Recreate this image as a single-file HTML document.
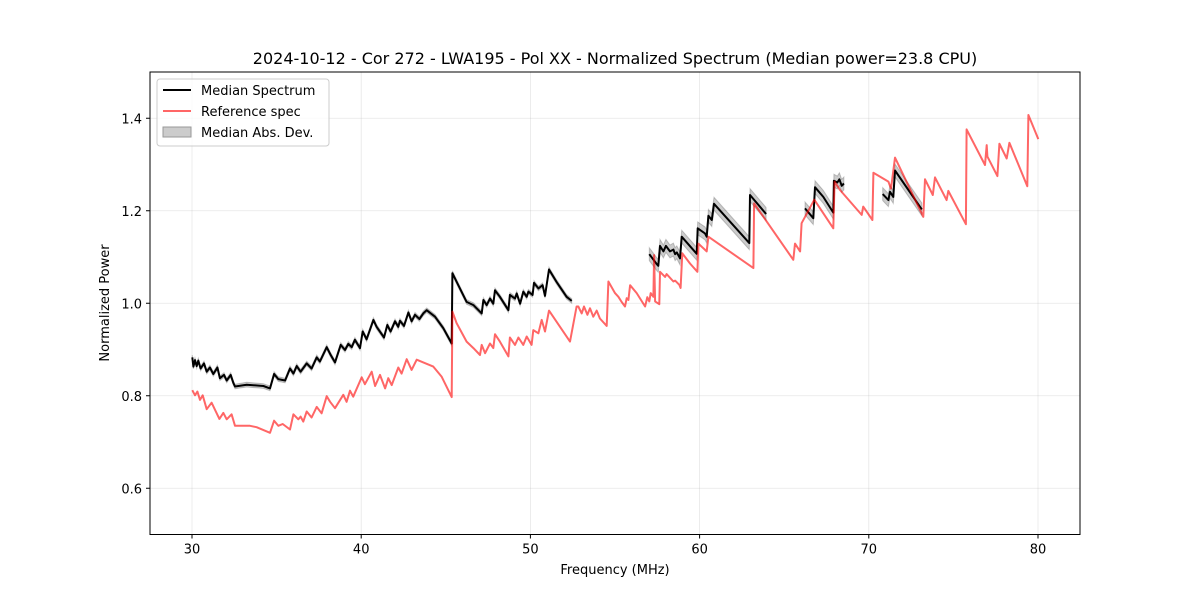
<!DOCTYPE html>
<html><head><meta charset="utf-8"><style>
body{margin:0;background:#fff;font-family:"Liberation Sans","DejaVu Sans",sans-serif}
svg text{font-family:"DejaVu Sans","Liberation Sans",sans-serif;fill:#000}
</style></head><body>
<svg id="chart" width="1200" height="600" viewBox="0 0 1200 600" xmlns="http://www.w3.org/2000/svg">
<rect width="1200" height="600" fill="#fff"/>
<text x="615" y="64" font-size="16" text-anchor="middle">2024-10-12 - Cor 272 - LWA195 - Pol XX - Normalized Spectrum (Median power=23.8 CPU)</text>
<g id="grid"></g>
<g id="series"></g>
<rect x="150" y="72" width="930" height="462.5" fill="none" stroke="#000" stroke-width="1"/>
<g id="axes"></g>
<text x="615" y="574" font-size="13" text-anchor="middle">Frequency (MHz)</text>
<text transform="translate(109,303) rotate(-90)" font-size="13" text-anchor="middle">Normalized Power</text>
<g>
<rect x="157" y="79" width="172" height="67" rx="3" fill="#fff" fill-opacity="0.8" stroke="#ccc"/>
<g><line x1="163" y1="90" x2="191" y2="90" stroke="#000" stroke-width="2"/><text x="201" y="95" font-size="13">Median Spectrum</text></g>
<g><line x1="163" y1="111" x2="191" y2="111" stroke="#ff6666" stroke-width="2"/><text x="201" y="116" font-size="13">Reference spec</text></g>
<g><rect x="163" y="127" width="28" height="10" fill="#000" fill-opacity="0.2" stroke="#999"/><text x="201" y="137" font-size="13">Median Abs. Dev.</text></g>
</g>
</svg>
<script>
const xTicks=[30,40,50,60,70,80];
const yTicks=[0.6,0.8,1.0,1.2,1.4];
const yTickLabels=["0.6","0.8","1.0","1.2","1.4"];
const refFreq=[30.02,30.18,30.32,30.47,30.63,30.87,31.16,31.62,31.85,32.05,32.34,32.54,33.43,33.82,34.61,34.85,35.10,35.36,35.79,35.99,36.28,36.42,36.58,36.78,37.07,37.37,37.66,37.96,38.16,38.45,38.94,39.14,39.34,39.53,40.03,40.22,40.62,40.82,41.11,41.41,41.60,41.80,42.19,42.39,42.69,42.98,43.28,43.67,44.26,44.76,45.35,45.39,45.64,46.23,46.63,47.02,47.12,47.32,47.61,47.81,47.91,48.20,48.70,48.79,49.09,49.29,49.58,49.78,50.07,50.17,50.47,50.67,50.86,51.10,52.34,52.73,52.83,53.03,53.17,53.37,53.52,53.72,53.92,54.11,54.51,54.61,55.00,55.20,55.39,55.59,55.69,55.79,55.89,56.28,56.78,56.91,57.03,57.11,57.27,57.31,57.37,57.62,57.66,57.96,58.05,58.45,58.55,58.80,58.88,58.98,59.43,59.87,59.93,60.42,60.52,63.18,63.22,65.54,65.64,65.94,66.03,66.78,67.90,67.98,68.29,69.58,69.67,70.21,70.27,71.16,71.31,71.55,73.22,73.32,73.78,73.91,74.60,74.70,75.74,75.78,76.87,76.97,77.01,77.60,77.72,78.15,78.31,79.37,79.43,80.02];
const refValue=[0.812,0.801,0.809,0.791,0.801,0.771,0.785,0.750,0.763,0.749,0.760,0.735,0.735,0.732,0.720,0.746,0.735,0.739,0.727,0.760,0.749,0.755,0.744,0.766,0.753,0.776,0.762,0.799,0.787,0.773,0.802,0.787,0.811,0.798,0.840,0.825,0.852,0.821,0.845,0.816,0.838,0.823,0.861,0.848,0.879,0.856,0.878,0.872,0.863,0.841,0.797,0.982,0.957,0.917,0.903,0.888,0.910,0.892,0.913,0.903,0.933,0.917,0.885,0.926,0.910,0.926,0.910,0.928,0.910,0.942,0.935,0.964,0.939,0.984,0.917,0.993,0.993,0.978,0.993,0.975,0.989,0.971,0.984,0.967,0.951,1.047,1.022,1.014,1.003,0.993,1.011,1.007,1.039,1.022,0.993,1.013,1.004,1.022,1.014,1.104,1.004,0.998,1.068,1.057,1.063,1.047,1.049,1.040,1.033,1.108,1.086,1.068,1.129,1.112,1.144,1.076,1.216,1.094,1.129,1.112,1.173,1.224,1.162,1.263,1.245,1.191,1.209,1.180,1.282,1.263,1.248,1.315,1.187,1.268,1.234,1.272,1.223,1.243,1.171,1.376,1.299,1.342,1.317,1.275,1.345,1.313,1.347,1.253,1.407,1.355];
const medFreq1=[30.02,30.08,30.18,30.28,30.37,30.51,30.71,30.87,31.06,31.26,31.50,31.65,31.89,32.05,32.29,32.44,32.54,33.23,34.22,34.61,34.85,35.10,35.50,35.79,35.99,36.19,36.42,36.78,37.07,37.37,37.56,37.96,38.20,38.45,38.79,39.04,39.24,39.44,39.63,39.93,40.09,40.32,40.72,40.91,41.35,41.54,41.74,42.00,42.19,42.29,42.53,42.79,42.98,43.18,43.44,43.67,43.87,44.36,44.85,45.35,45.39,45.74,46.23,46.63,46.82,47.12,47.22,47.42,47.61,47.81,47.91,48.20,48.70,48.79,49.09,49.19,49.39,49.58,49.78,49.88,50.13,50.21,50.47,50.72,50.86,51.10,51.55,52.14,52.44];
const medValue1=[0.883,0.863,0.877,0.864,0.876,0.859,0.870,0.852,0.861,0.847,0.861,0.838,0.845,0.833,0.845,0.828,0.820,0.824,0.821,0.816,0.847,0.836,0.833,0.859,0.848,0.864,0.852,0.870,0.859,0.883,0.874,0.905,0.888,0.872,0.910,0.899,0.912,0.905,0.921,0.903,0.939,0.922,0.964,0.949,0.926,0.953,0.939,0.961,0.949,0.962,0.951,0.980,0.961,0.975,0.966,0.978,0.985,0.971,0.946,0.913,1.065,1.039,1.003,0.996,0.989,0.978,1.007,0.996,1.010,0.999,1.028,1.014,0.985,1.018,1.010,1.021,0.999,1.025,1.014,1.025,1.018,1.044,1.032,1.039,1.016,1.073,1.046,1.014,1.005];
const medFreq2=[57.03,57.46,57.56,57.66,57.86,58.01,58.25,58.45,58.55,58.65,58.84,58.94,59.83,59.89,60.32,60.42,60.52,60.72,60.85,62.94,62.98,63.93];
const medValue2=[1.106,1.085,1.081,1.124,1.112,1.124,1.112,1.116,1.106,1.110,1.097,1.144,1.107,1.162,1.151,1.144,1.189,1.180,1.215,1.130,1.234,1.193];
const medFreq3=[66.23,66.72,66.82,67.31,67.90,67.94,68.14,68.26,68.40,68.53];
const medValue3=[1.205,1.184,1.251,1.230,1.196,1.265,1.261,1.268,1.254,1.259];
const medFreq4=[70.82,71.16,71.25,71.45,71.55,73.13];
const medValue4=[1.236,1.223,1.241,1.230,1.287,1.203];
const madWidth=[0.005,0.014,0.014,0.014];

const NS="http://www.w3.org/2000/svg";
const X0=150,X1=1080,Y0=72,Y1=534.5;
function xs(f){return 192+(f-30)*(1038-192)/50;}
function ys(v){return Y1-(v-0.5)*(Y1-Y0)/1.0;}
function mk(tag,attrs,parent){const e=document.createElementNS(NS,tag);for(const k in attrs)e.setAttribute(k,attrs[k]);parent.appendChild(e);return e;}
const grid=document.getElementById('grid'),axes=document.getElementById('axes'),series=document.getElementById('series');
xTicks.forEach(t=>{const x=xs(t);
 const g=mk('line',{x1:x,x2:x,y1:Y0,y2:Y1,stroke:'#b0b0b0','stroke-opacity':0.3,'stroke-width':0.8},grid);
 
 
 const tk=mk('line',{x1:x,x2:x,y1:Y1,y2:Y1+4,stroke:'#000'},axes);
 
 
 const tx=mk('text',{x:x,y:Y1+19,'font-size':13,'text-anchor':'middle'},axes);tx.textContent=String(t);
 
 
});
yTicks.forEach((t,i)=>{const y=ys(t);
 const g=mk('line',{x1:X0,x2:X1,y1:y,y2:y,stroke:'#b0b0b0','stroke-opacity':0.3,'stroke-width':0.8},grid);
 
 
 const tk=mk('line',{x1:X0-4,x2:X0,y1:y,y2:y,stroke:'#000'},axes);
 
 
 const tx=mk('text',{x:X0-8,y:y+5,'font-size':13,'text-anchor':'end'},axes);tx.textContent=yTickLabels[i];
 
 
});
function pts(F,V,off){return F.map((f,i)=>xs(f).toFixed(1)+','+ys(V[i]+off).toFixed(1));}
const meds=[[medFreq1,medValue1],[medFreq2,medValue2],[medFreq3,medValue3],[medFreq4,medValue4]];
meds.forEach((s,i)=>{const up=pts(s[0],s[1],madWidth[i]),dn=pts(s[0],s[1],-madWidth[i]).reverse();
 const p=mk('polygon',{points:up.concat(dn).join(' '),fill:'#000','fill-opacity':0.2,stroke:'#000','stroke-opacity':0.2,'stroke-width':1},series);
 
 
});
meds.forEach(s=>{
 const l=mk('polyline',{points:pts(s[0],s[1],0).join(' '),fill:'none',stroke:'#000','stroke-width':2,'stroke-linejoin':'round'},series);
 
 
});
const r=mk('polyline',{points:pts(refFreq,refValue,0).join(' '),fill:'none',stroke:'#ff0000','stroke-opacity':0.6,'stroke-width':2,'stroke-linejoin':'round'},series);


</script>
</body></html>
